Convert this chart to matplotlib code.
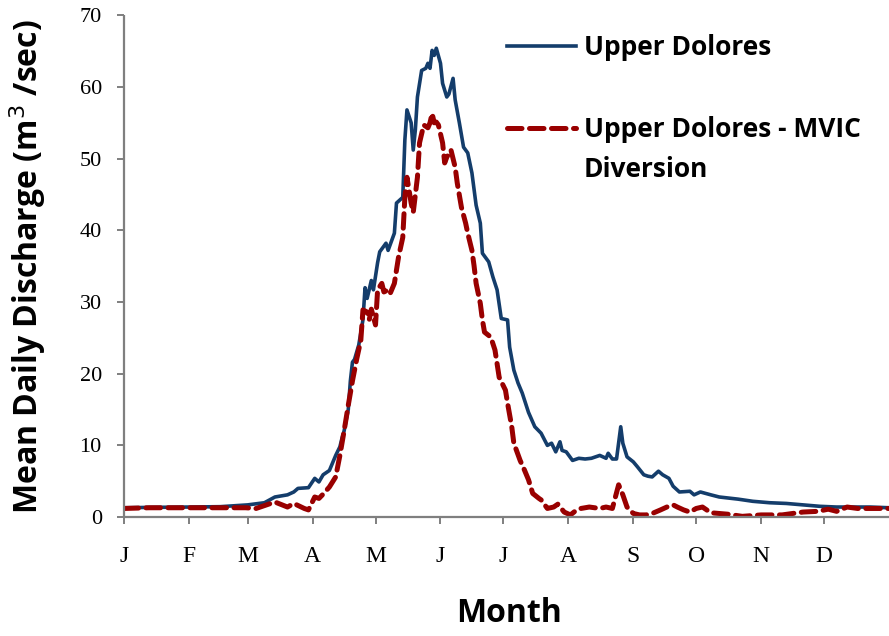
import matplotlib
matplotlib.use("Agg")
import matplotlib.pyplot as plt
from matplotlib.lines import Line2D

# Mean daily discharge, Upper Dolores (day of year, m3/s)
upper_days = [0, 12, 31, 46, 59, 67, 72, 78, 81, 83, 88, 91, 93, 95, 98, 101, 103, 104,
              105, 107, 108, 109, 110, 112, 114, 115, 116, 118, 119, 121, 122, 125, 126,
              129, 130, 133, 134, 135, 137, 138, 139, 140, 142, 144, 145, 146, 147, 148,
              149, 151, 152, 154, 155, 157, 158, 160, 162, 164, 166, 168, 170, 171, 174,
              176, 178, 180, 183, 184, 186, 188, 190, 193, 196, 199, 202, 204, 206, 208,
              209, 211, 214, 217, 220, 223, 227, 230, 231, 233, 235, 237, 238, 240, 243,
              245, 248, 250, 252, 255, 257, 260, 262, 265, 270, 272, 275, 280, 284, 293,
              300, 308, 316, 324, 332, 340, 356, 365]
upper_flow = [1.3, 1.35, 1.4, 1.45, 1.7, 2.0, 2.8, 3.1, 3.5, 4.0, 4.1, 5.4, 4.9, 5.9, 6.5,
              8.6, 9.8, 11.0, 12.0, 15.0, 19.0, 21.6, 22.0, 24.0, 27.5, 32.0, 30.5, 33.0,
              31.7, 35.5, 37.0, 38.2, 37.2, 39.6, 43.8, 44.6, 52.6, 56.8, 55.0, 51.2, 54.0,
              58.6, 62.3, 62.6, 63.3, 62.6, 65.1, 64.4, 65.4, 63.3, 60.5, 58.6, 59.0, 61.2,
              58.2, 55.0, 51.6, 50.8, 48.0, 43.5, 41.0, 36.8, 35.6, 33.5, 31.7, 27.7, 27.5,
              23.7, 20.5, 18.7, 17.3, 14.6, 12.6, 11.7, 10.0, 10.3, 9.1, 10.5, 9.3, 9.1,
              7.9, 8.2, 8.1, 8.2, 8.6, 8.2, 8.9, 8.1, 8.1, 12.6, 10.3, 8.4, 7.7, 7.0, 5.9,
              5.7, 5.6, 6.4, 5.9, 5.4, 4.3, 3.5, 3.6, 3.1, 3.5, 3.1, 2.8, 2.5, 2.2, 2.0,
              1.9, 1.7, 1.5, 1.4, 1.4, 1.3]

# Upper Dolores minus MVIC diversion (day of year, m3/s)
diversion_days = [0, 12, 30, 50, 58, 63, 72, 78, 81, 86, 88, 91, 93, 95, 98, 101, 103, 105,
                  107, 109, 111, 113, 114, 116, 117, 118, 120, 121, 123, 124, 126, 127, 129,
                  131, 133, 134, 135, 137, 138, 140, 141, 143, 145, 146, 147, 148, 149, 150,
                  152, 153, 154, 156, 158, 159, 161, 163, 164, 166, 167, 168, 170, 171, 172,
                  175, 177, 179, 182, 183, 185, 186, 189, 191, 193, 195, 198, 199, 202, 205,
                  207, 210, 213, 216, 218, 222, 227, 230, 233, 236, 238, 240, 243, 246, 249,
                  252, 256, 259, 262, 264, 267, 270, 273, 276, 280, 288, 295, 304, 314, 319,
                  324, 331, 336, 340, 345, 350, 365]
diversion_flow = [1.2, 1.3, 1.3, 1.3, 1.3, 1.2, 2.1, 1.4, 1.9, 1.2, 1.0, 2.8, 2.6, 3.2, 4.2,
                  5.6, 8.6, 12.0, 15.6, 19.0, 22.0, 24.7, 28.9, 28.6, 27.5, 29.0, 26.8, 31.7,
                  32.6, 31.4, 31.7, 31.2, 32.6, 36.3, 39.0, 44.6, 47.4, 43.8, 42.5, 47.4, 52.2,
                  54.7, 54.3, 55.0, 56.3, 55.0, 55.1, 54.7, 52.2, 49.4, 50.2, 51.2, 48.8, 46.6,
                  43.2, 41.0, 39.6, 37.2, 35.1, 32.6, 29.8, 27.5, 25.8, 25.1, 23.3, 19.5, 17.7,
                  15.9, 12.6, 10.3, 7.9, 6.6, 5.2, 3.3, 2.6, 2.4, 1.2, 1.4, 1.8, 0.7, 0.3, 1.0,
                  1.2, 1.4, 1.2, 1.4, 1.2, 4.5, 3.1, 1.4, 0.5, 0.3, 0.3, 0.5, 1.0, 1.4, 1.7, 1.4,
                  1.0, 0.7, 1.2, 1.4, 0.6, 0.4, 0.1, 0.3, 0.3, 0.5, 0.7, 0.8, 1.1, 0.8, 1.4,
                  1.2, 1.2]

month_starts = [0, 31, 59, 90, 120, 151, 181, 212, 243, 273, 304, 334]
month_labels = ["J", "F", "M", "A", "M", "J", "J", "A", "S", "O", "N", "D"]
y_ticks = [0, 10, 20, 30, 40, 50, 60, 70]

upper_name = "Upper Dolores"
diversion_name = ["Upper Dolores - MVIC", "Diversion"]

BLUE = "#143D6B"
RED = "#990000"
AXIS = "#7F7F7F"
LABEL_FONT = ["Open Sans", "DejaVu Sans"]
TICK_FONT = ["Liberation Serif", "DejaVu Serif"]
BLUE_LW = 2.6
RED_LW = 3.6
RED_DASH = (2.9, 1.5)

fig = plt.figure(figsize=(8.89, 6.36), dpi=100)
ax = fig.add_axes([0.1395, 0.187, 0.8605, 0.789])

ax.plot(upper_days, upper_flow, color=BLUE, lw=BLUE_LW, solid_joinstyle="round")
ax.plot(diversion_days, diversion_flow, color=RED, lw=RED_LW, dashes=RED_DASH,
        dash_capstyle="round")

ax.set_xlim(0, 365)
ax.set_ylim(0, 70)
ax.set_xticks(month_starts)
ax.set_xticklabels(month_labels)
ax.set_yticks(y_ticks)

for side in ("top", "right"):
    ax.spines[side].set_visible(False)
for side in ("left", "bottom"):
    ax.spines[side].set_color(AXIS)
    ax.spines[side].set_linewidth(1.6)
    ax.spines[side].set_capstyle("butt")

ax.tick_params(axis="x", direction="out", length=5, width=1.4, color=AXIS, pad=16,
               labelsize=17, labelcolor="black")
ax.tick_params(axis="y", direction="out", length=5, width=1.4, color=AXIS, pad=11,
               labelsize=16, labelcolor="black")
for lab in ax.get_xticklabels() + ax.get_yticklabels():
    lab.set_family(TICK_FONT)

ax.set_ylabel("Mean Daily Discharge (m$^3$ /sec)", fontsize=23, fontweight="bold",
              family=LABEL_FONT)
ax.yaxis.set_label_coords(-0.100, 0.5)
ax.set_xlabel("Month", fontsize=23, fontweight="bold", family=LABEL_FONT, va="top")
ax.xaxis.set_label_coords(0.503, -0.160)

# Legend: the dashed key sits beside the first line of its two-line label
legend_kw = dict(frameon=False, loc="center left", borderpad=0, borderaxespad=0,
                 handlelength=2.6, handletextpad=0.3, labelspacing=0.5,
                 prop={"family": LABEL_FONT, "weight": "bold", "size": 19})
leg1 = ax.legend([Line2D([], [], color=BLUE, lw=BLUE_LW)], [upper_name],
                 bbox_to_anchor=(0.5007, 0.936), **legend_kw)
ax.add_artist(leg1)
ax.legend([Line2D([], [], color=RED, lw=RED_LW, dashes=RED_DASH, dash_capstyle="round"),
           Line2D([], [], alpha=0)],
          diversion_name, bbox_to_anchor=(0.5007, 0.732), **legend_kw)

fig.savefig("out.png", dpi=100)
